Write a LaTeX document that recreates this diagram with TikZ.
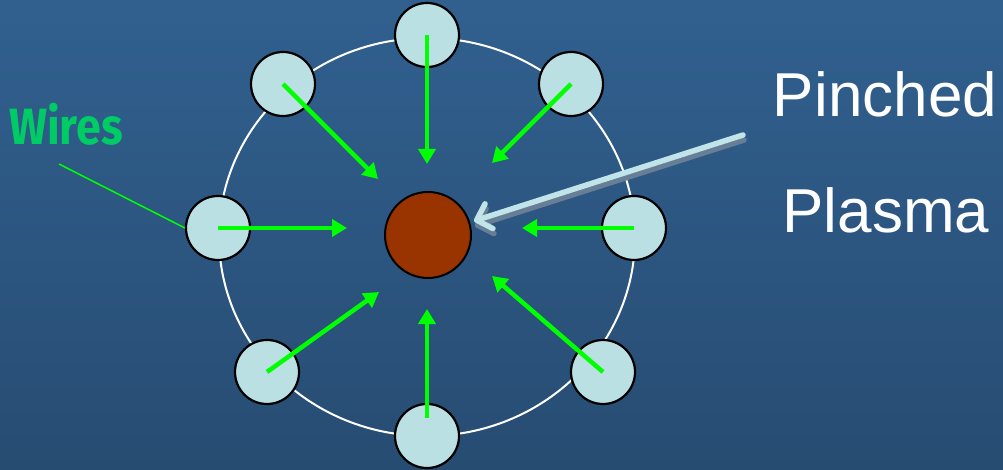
\documentclass[tikz,border=0pt]{standalone}
\usepackage{fontspec}
\setmainfont{Liberation Sans}
\newfontfamily\labelfont{Fira Sans}
\usetikzlibrary{arrows.meta}

\definecolor{bgtop}{HTML}{31608F}
\definecolor{bgbottom}{HTML}{274C72}
\definecolor{wirefill}{HTML}{BAE0E3}
\definecolor{plasmafill}{HTML}{993300}
\definecolor{pushgreen}{HTML}{00FF00}
\definecolor{labelgreen}{HTML}{00CC66}
\definecolor{pointerblue}{HTML}{C0E4E8}
\definecolor{pointershadow}{HTML}{687E96}

\tikzset{
	wire/.style={circle, draw=black, line width=2.2pt, fill=wirefill, minimum size=64pt, inner sep=0pt},
	push/.style={draw=pushgreen, line width=4.5pt, -{Triangle[length=15pt,width=17pt]}},
	pointer/.style={line width=5.5pt, line cap=round, -{Straight Barb[length=13pt,width=26pt,round]}}
}

\begin{document}
\begin{tikzpicture}[x=1pt, y=-1pt]

	%background

	\shade[top color=bgtop, bottom color=bgbottom] (0,0) rectangle (1003,470);
	\useasboundingbox (0,0) rectangle (1003,470);

	%ring and plasma

	\draw[white, line width=2pt] (427,237) ellipse (208 and 199);
	\node[circle, draw=black, line width=2pt, fill=plasmafill, minimum size=86pt, inner sep=0pt] (plasma) at (428,235) {};

	%wires

	\node[wire] (wt) at (427,35) {};
	\node[wire] (wtr) at (571,84) {};
	\node[wire] (wr) at (634,228) {};
	\node[wire] (wbr) at (603,372) {};
	\node[wire] (wb) at (427,436) {};
	\node[wire] (wbl) at (267,372) {};
	\node[wire] (wl) at (218,228) {};
	\node[wire] (wtl) at (283,84) {};

	%arrow ends near the plasma

	\coordinate (ht) at (427,164);
	\coordinate (htr) at (492,163);
	\coordinate (hr) at (522,228);
	\coordinate (hbr) at (492,276);
	\coordinate (hb) at (427,309);
	\coordinate (hbl) at (379,292);
	\coordinate (hl) at (347,228);
	\coordinate (htl) at (378,179);

	\draw[push] (wt.center) -- (ht);
	\draw[push] (wtr.center) -- (htr);
	\draw[push] (wr.center) -- (hr);
	\draw[push] (wbr.center) -- (hbr);
	\draw[push] ([yshift=18pt]wb.center) -- (hb);
	\draw[push] (wbl.center) -- (hbl);
	\draw[push] (wl.center) -- (hl);
	\draw[push] (wtl.center) -- (htl);

	%labels

	\node[anchor=base, text=labelgreen, xscale=0.88, font=\labelfont\bfseries\fontsize{51}{56}\selectfont] (wires) at (66,145) {Wires};
	\draw[pushgreen, line width=1.5pt] (59,164) -- (wl.west);

	\node[anchor=base, text=white, font=\fontsize{62}{70}\selectfont] (pinched) at (885,117) {Pinched};
	\node[anchor=base, text=white, font=\fontsize{62}{70}\selectfont] (plasmalabel) at (886,233) {Plasma};

	\coordinate (ptail) at (743,135);
	\coordinate (ptip) at (474,221);
	\draw[pointer, draw=pointershadow] ([shift={(1pt,-5pt)}]ptail) -- ([shift={(1pt,-5pt)}]ptip);
	\draw[pointer, draw=pointerblue] (ptail) -- (ptip);

\end{tikzpicture}
\end{document}
